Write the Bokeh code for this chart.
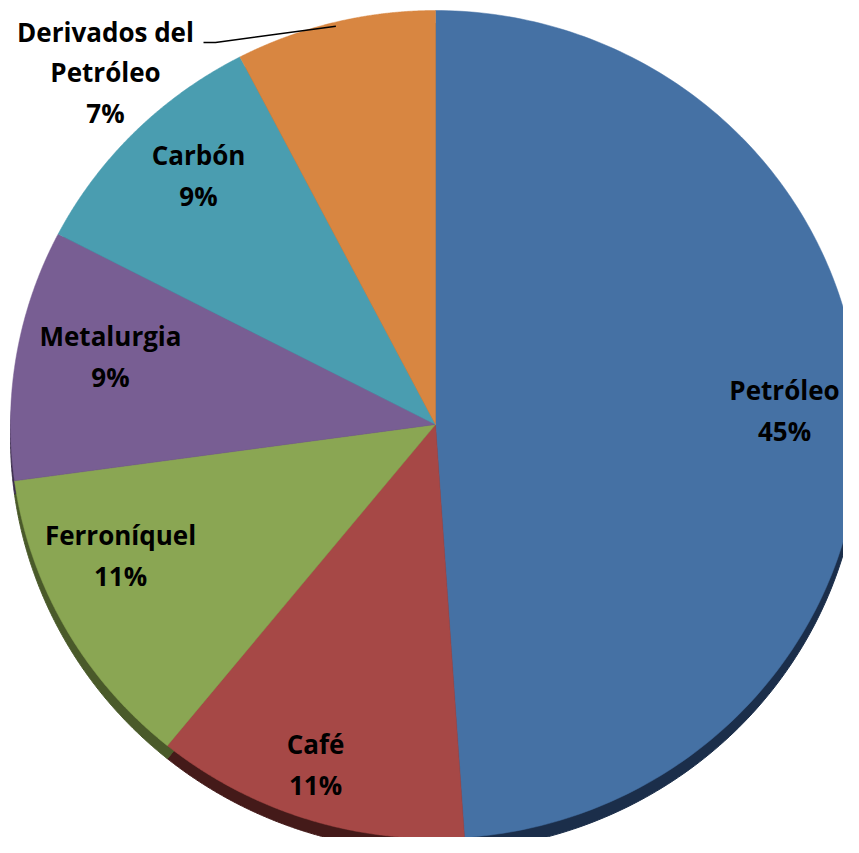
import numpy as np
from bokeh.plotting import figure
from bokeh.models import Range1d, ColumnDataSource
from bokeh.embed import file_html
from bokeh.resources import INLINE
from bokeh.core.properties import value

# ---- data ----
categories = ["Petróleo", "Café", "Ferroníquel", "Metalurgia", "Carbón", "Derivados del Petróleo"]
shares = [45, 11, 11, 9, 9, 7]
pct_labels = ["45%", "11%", "11%", "9%", "9%", "7%"]
label_names = ["Petróleo", "Café", "Ferroníquel", "Metalurgia", "Carbón", "Derivados del\nPetróleo"]

# ---- styles / layout ----
colors = ["#4571A4", "#A64846", "#8AA653", "#785E93", "#4A9DB0", "#D88641"]
shadow_colors = ["#1B2E4A", "#441A19", "#4A5A2A", "#3A2C4A", "#22505A", "#6A4020"]
W, H = 843, 837
SCREEN_H = 853
cx, cy = 435, SCREEN_H - 424
rx, ry = 425, 414
shadow_dy = 13
# label centres (screen coords) for each slice
label_pos = [(784, 410), (315, 764), (120, 555), (110, 356), (198, 175), (105, 72)]
font = value("Open Sans")

p = figure(width=W, height=H, x_range=Range1d(0, W), y_range=Range1d(SCREEN_H - H, SCREEN_H),
           output_backend="svg", toolbar_location=None, min_border=0)
p.axis.visible = False
p.grid.visible = False
p.outline_line_color = None
p.background_fill_color = "white"
p.border_fill_color = "white"

frac = np.array(shares, dtype=float) / np.sum(shares)
ends = np.cumsum(frac) * 2 * np.pi
starts = ends - frac * 2 * np.pi


def slice_poly(a0, a1, ox, oy):
    t = np.linspace(a0, a1, 200)
    xs = np.concatenate([[ox], ox + rx * np.sin(t), [ox]])
    ys = np.concatenate([[oy], oy + ry * np.cos(t), [oy]])
    return list(xs), list(ys)


sh_x, sh_y, fx, fy = [], [], [], []
for a0, a1 in zip(starts, ends):
    xs, ys = slice_poly(a0, a1, cx, cy - shadow_dy)
    sh_x.append(xs); sh_y.append(ys)
    xs, ys = slice_poly(a0, a1, cx, cy)
    fx.append(xs); fy.append(ys)

p.patches(xs="xs", ys="ys", fill_color="c", line_color="c", line_width=1,
          source=ColumnDataSource(dict(xs=sh_x, ys=sh_y, c=shadow_colors)))
p.patches(xs="xs", ys="ys", fill_color="c", line_color="c", line_width=0.5,
          source=ColumnDataSource(dict(xs=fx, ys=fy, c=colors, name=categories)))

# leader line for the small slice
mid = (starts[-1] + ends[-1]) / 2
ex, ey = cx + 0.99 * rx * np.sin(mid), cy + 0.99 * ry * np.cos(mid)
lx, ly = label_pos[-1]
p.line([lx + 98, lx + 110, ex], [SCREEN_H - (ly - 30), SCREEN_H - (ly - 30), ey],
       line_color="black", line_width=1.5)

texts = [f"{n}\n{pc}" for n, pc in zip(label_names, pct_labels)]
p.text(x=[q[0] for q in label_pos], y=[SCREEN_H - q[1] for q in label_pos], text=texts,
       text_font=font, text_font_style="bold", text_font_size="26px", text_color="black",
       text_align="center", text_baseline="middle", text_line_height=1.13)

open("out.html", "w").write(file_html(p, INLINE))
